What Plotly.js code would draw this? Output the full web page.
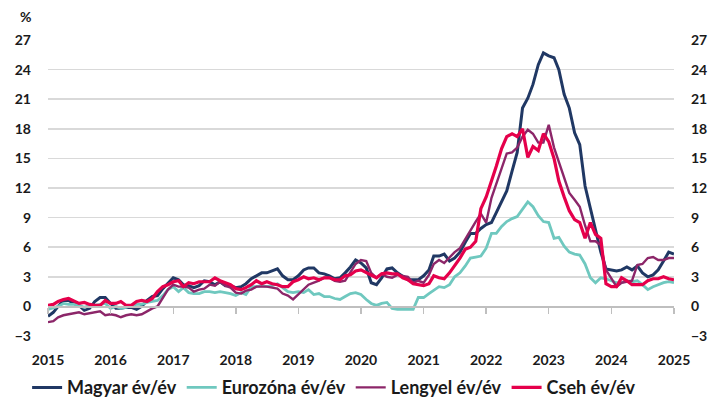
<!DOCTYPE html>
<html>
<head>
<meta charset="utf-8">
<script src="https://cdn.plot.ly/plotly-3.0.1.min.js"></script>
<style>html,body{margin:0;padding:0;background:#fff;}#chart{width:723px;height:403px;}</style>
</head>
<body>
<div id="chart"></div>
<script>
// Monthly values as plotted, starting at the 2015 tick
const magyar = [
 -1.0,-0.6,0.0,0.6,0.6,0.3,0.1,-0.4,-0.2,0.5,0.9,
 0.9,0.3,-0.2,-0.2,-0.1,-0.1,-0.3,0.0,0.6,1.0,1.1,1.8,
 2.3,2.9,2.7,2.2,2.1,1.9,2.1,2.6,2.5,2.2,2.5,2.1,
 2.1,1.9,2.0,2.3,2.8,3.1,3.4,3.4,3.6,3.8,3.1,2.7,
 2.7,3.1,3.7,3.9,3.9,3.4,3.3,3.1,2.8,2.9,3.4,4.0,
 4.7,4.4,3.9,2.4,2.2,2.9,3.8,3.9,3.4,3.0,2.7,2.7,
 2.7,3.1,3.7,5.1,5.1,5.3,4.6,4.9,5.5,6.5,7.4,7.4,
 7.9,8.3,8.5,9.5,10.7,11.7,13.7,15.6,20.1,21.1,22.5,24.5,
 25.7,25.4,25.2,24.0,21.5,20.1,17.6,16.4,12.2,9.9,7.9,5.5,
 3.8,3.7,3.6,3.7,4.0,3.7,4.1,3.4,3.0,3.2,3.7,4.6,
 5.5,5.3
];
const eurozona = [
 -0.3,-0.1,0.0,0.3,0.2,0.2,0.1,-0.1,0.1,0.1,0.2,
 0.3,-0.2,0.0,-0.2,-0.1,0.1,0.2,0.2,0.4,0.5,0.6,1.1,
 1.7,2.0,1.5,1.9,1.4,1.3,1.3,1.5,1.5,1.4,1.5,1.4,
 1.3,1.1,1.4,1.2,2.0,2.0,2.1,2.0,2.1,2.3,1.9,1.5,
 1.4,1.5,1.4,1.7,1.2,1.3,1.0,1.0,0.8,0.7,1.0,1.3,
 1.4,1.2,0.7,0.3,0.1,0.3,0.4,-0.2,-0.3,-0.3,-0.3,-0.3,
 0.9,0.9,1.3,1.6,2.0,1.9,2.2,3.0,3.4,4.1,4.9,5.0,
 5.1,5.9,7.4,7.4,8.1,8.6,8.9,9.1,9.9,10.6,10.1,9.2,
 8.6,8.5,6.9,7.0,6.1,5.5,5.3,5.2,4.3,2.9,2.4,2.9,
 2.8,2.6,2.4,2.4,2.6,2.5,2.6,2.2,1.7,2.0,2.2,2.4,
 2.5,2.4
];
const lengyel = [
 -1.6,-1.5,-1.1,-0.9,-0.8,-0.7,-0.6,-0.8,-0.7,-0.6,-0.5,
 -0.9,-0.8,-0.9,-1.1,-0.9,-0.8,-0.9,-0.8,-0.5,-0.2,0.0,0.8,
 1.7,2.2,2.0,2.0,1.9,1.5,1.7,1.8,2.2,2.1,2.5,2.1,
 1.9,1.4,1.3,1.6,1.7,2.0,2.0,2.0,1.9,1.8,1.3,1.1,
 0.7,1.2,1.7,2.2,2.4,2.6,2.9,2.9,2.6,2.5,2.6,3.4,
 4.3,4.7,4.6,3.4,2.9,3.3,3.0,2.9,3.2,3.1,3.0,2.4,
 2.6,2.4,3.2,4.3,4.7,4.4,5.0,5.5,5.9,6.8,7.8,8.6,
 9.4,8.5,11.0,12.4,13.9,15.5,15.6,16.1,17.2,17.9,17.5,16.6,
 16.6,18.4,16.1,14.7,13.0,11.5,10.8,10.1,8.2,6.6,6.6,6.2,
 3.7,2.8,2.0,2.4,2.5,2.6,4.2,4.3,4.9,5.0,4.7,4.7,
 4.9,4.9
];
const cseh = [
 0.1,0.2,0.5,0.7,0.8,0.5,0.3,0.4,0.2,0.1,0.1,
 0.6,0.3,0.3,0.5,0.1,0.1,0.5,0.6,0.5,0.8,1.5,2.0,
 2.2,2.5,2.6,2.0,2.4,2.3,2.5,2.5,2.5,2.9,2.6,2.4,
 2.2,1.8,1.7,1.9,2.2,2.6,2.3,2.5,2.3,2.2,2.0,2.0,
 2.5,2.7,3.0,2.8,2.9,2.7,2.9,2.9,2.7,2.7,3.1,3.2,
 3.6,3.7,3.4,3.2,2.9,3.3,3.4,3.3,3.3,2.9,2.7,2.3,
 2.2,2.1,2.3,3.1,2.9,2.8,3.4,4.1,4.9,5.8,6.0,6.6,
 9.9,11.1,12.7,14.2,16.0,17.2,17.5,17.2,18.0,15.1,16.2,15.8,
 17.5,16.7,15.0,12.7,11.1,9.7,8.8,8.5,6.9,8.5,7.3,6.9,
 2.3,2.0,2.0,2.9,2.6,2.2,2.2,2.2,2.6,2.8,2.8,3.0,
 2.8,2.7
];
const seriesNames = ["Magyar év/év","Eurozóna év/év","Lengyel év/év","Cseh év/év"];
const yearLabels = ["2015","2016","2017","2018","2019","2020","2021","2022","2023","2024","2025"];
const yTicks = [-3,0,3,6,9,12,15,18,21,24,27];

const months = [];
for (let i = 0; i < magyar.length; i++) {
  const y = 2015 + Math.floor(i / 12), m = (i % 12) + 1;
  months.push(y + "-" + String(m).padStart(2, "0") + "-01");
}
const yearDates = yearLabels.map(y => y + "-01-01");

const FONT = "Lato, 'Open Sans', 'Liberation Sans', sans-serif";
const colors = ["#203864", "#6FC8BF", "#8C2669", "#E5004B"];
const widths = [3, 2.8, 2.4, 3.2];
const data = [magyar, eurozona, lengyel, cseh].map((vals, k) => ({
  type: "scatter", mode: "lines", name: seriesNames[k],
  x: months, y: vals,
  line: {color: colors[k], width: widths[k]},
  hoverinfo: "skip"
}));
// helper trace to show secondary axes (right labels, axis line at zero)
data.push({type: "scatter", mode: "lines", x: [months[0]], y: [null], xaxis: "x2", yaxis: "y2", showlegend: false, hoverinfo: "skip"});

const tickFont = {family: FONT, size: 14, color: "#1a1a1a", weight: 700};
const layout = {
  width: 723, height: 403,
  margin: {l: 48, r: 49, t: 40, b: 67},
  paper_bgcolor: "#fff", plot_bgcolor: "#fff",
  showlegend: true,
  legend: {orientation: "h", xref: "container", yref: "container", x: 0.0375, xanchor: "left", y: 0.038, yanchor: "middle",
    font: {family: FONT, size: 18, color: "#1a1a1a", weight: 700}, traceorder: "normal",
    itemwidth: 30, tracegroupgap: 0},
  xaxis: {type: "date", range: ["2015-01-01", "2025-01-01"], tickvals: yearDates, ticktext: yearLabels,
    showgrid: false, zeroline: false, showline: false, ticks: "", tickfont: tickFont,
    ticklabelstandoff: 14, fixedrange: true},
  xaxis2: {type: "date", range: ["2015-01-01", "2025-01-01"], overlaying: "x", anchor: "free", position: 0.1,
    tickvals: yearDates, showticklabels: false, showgrid: false, zeroline: false,
    showline: true, linecolor: "#BFBFBF", linewidth: 1.5, ticks: "outside", ticklen: 6, tickcolor: "#BFBFBF", tickwidth: 1.5},
  yaxis: {range: [-3, 27], tickvals: yTicks, showgrid: true, gridcolor: "#D9D9D9", gridwidth: 1.5,
    zeroline: false, showline: false, ticks: "", tickfont: tickFont, ticklabelstandoff: 16, fixedrange: true},
  yaxis2: {range: [-3, 27], tickvals: yTicks, overlaying: "y", side: "right", anchor: "x",
    showgrid: false, zeroline: false, showline: false, ticks: "", tickfont: tickFont, ticklabelstandoff: 16},
  annotations: [{text: "%", xref: "paper", yref: "paper", x: -0.036, y: 1.081, xanchor: "center", yanchor: "middle",
    showarrow: false, font: {family: FONT, size: 14, color: "#1a1a1a", weight: 700}}]
};
Plotly.newPlot("chart", data, layout, {staticPlot: true, displayModeBar: false});
</script>
</body>
</html>
